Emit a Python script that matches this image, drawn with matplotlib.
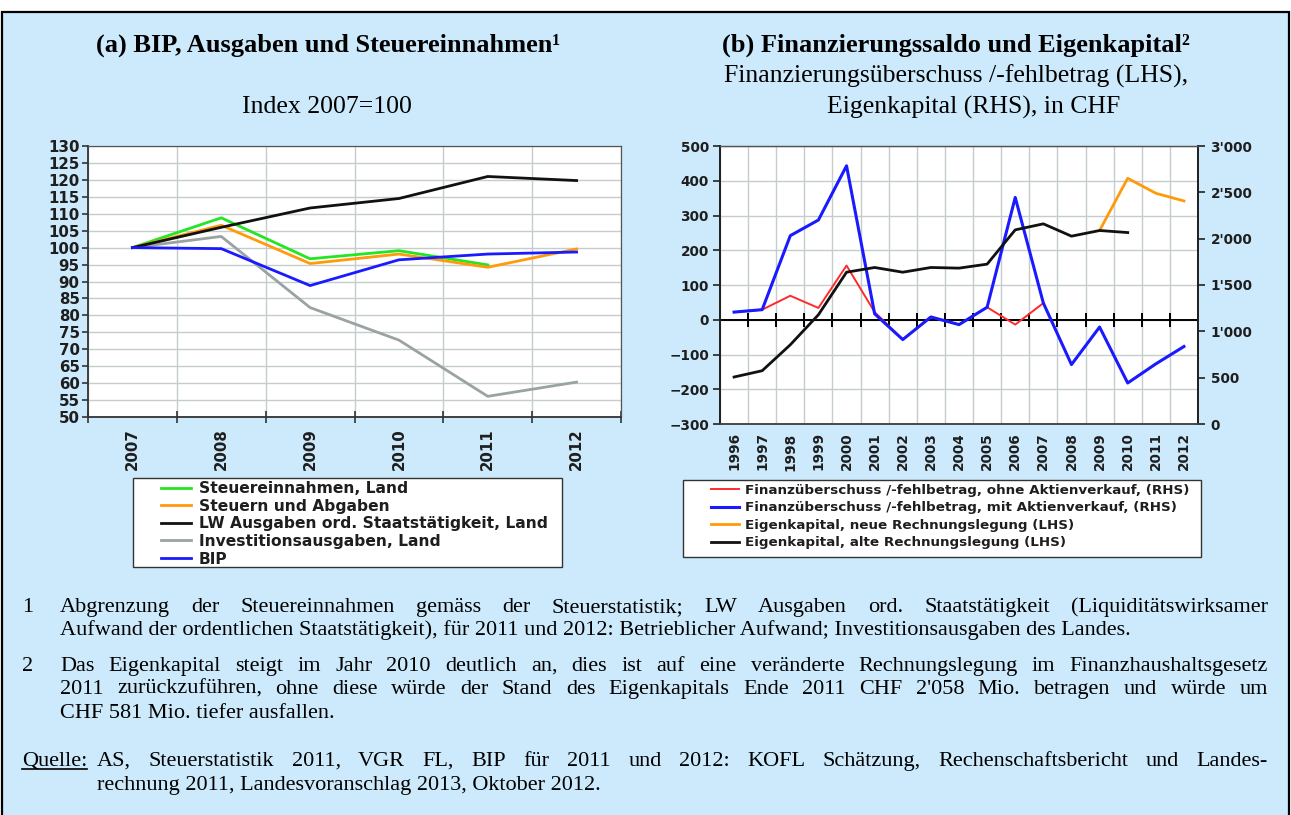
import numpy as np
import matplotlib
matplotlib.use('Agg')
import matplotlib.pyplot as plt
from matplotlib.lines import Line2D
from matplotlib.patches import Rectangle
from matplotlib.ticker import FuncFormatter

# ---------------- data ----------------
years_a = ['2007', '2008', '2009', '2010', '2011', '2012']
steuereinnahmen_land = [100, 108.8, 96.7, 99.1, 94.9, np.nan]
steuern_abgaben = [100, 106.6, 95.3, 98.1, 94.2, 99.6]
lw_ausgaben = [100, 106.0, 111.7, 114.5, 121.0, 119.8]
investitionsausgaben = [100, 103.3, 82.3, 72.7, 56.1, 60.3]
bip = [100, 99.7, 88.8, 96.4, 98.1, 98.7]

years_b = [str(y) for y in range(1996, 2013)]
fin_ohne = [22, 29, 69, 34, 156, 22, -57, 8, -14, 36, -14, 48,
            np.nan, np.nan, np.nan, np.nan, np.nan]
fin_mit = [22, 29, 242, 287, 443, 17, -57, 8, -14, 36, 352, 48,
           -129, -21, -182, -127, -77]
eigen_neu = [np.nan] * 13 + [2088, 2652, 2490, 2407]
eigen_alt = [507, 575, 855, 1179, 1638, 1689, 1638, 1689, 1682, 1725,
             2095, 2160, 2027, 2088, 2066, np.nan, np.nan]

labels_a = ['Steuereinnahmen, Land', 'Steuern und Abgaben',
            'LW Ausgaben ord. Staatstätigkeit, Land',
            'Investitionsausgaben, Land', 'BIP']
labels_b = ['Finanzüberschuss /-fehlbetrag, ohne Aktienverkauf, (RHS)',
            'Finanzüberschuss /-fehlbetrag, mit Aktienverkauf, (RHS)',
            'Eigenkapital, neue Rechnungslegung (LHS)',
            'Eigenkapital, alte Rechnungslegung (LHS)']

# ---------------- style ----------------
W, H = 1291, 815
BG = '#cdeafc'
GRID = '#c4cccc'
TXT = '#1e1e1e'
C_GREEN = '#22e622'
C_ORANGE = '#ff9a0a'
C_BLACK = '#111111'
C_GREY = '#9aa3a3'
C_BLUE = '#1a1aff'
C_RED = '#ff2a2a'
SERIF = 'Liberation Serif'
SANS = 'DejaVu Sans'


def fx(x):
    return x / W


def fy(y):
    return 1 - y / H


fig = plt.figure(figsize=(W / 100, H / 100), dpi=100)
fig.patch.set_facecolor('white')
fig.patches.append(Rectangle((fx(2), -0.02), fx(1289) - fx(2), fy(12) + 0.02,
                             transform=fig.transFigure, facecolor=BG,
                             edgecolor='black', linewidth=1.6, zorder=-10))

# ---------------- titles ----------------
fig.text(fx(328), fy(45), '(a) BIP, Ausgaben und Steuereinnahmen¹', ha='center', va='center',
         fontfamily=SERIF, fontweight='bold', fontsize=19, color='black')
fig.text(fx(327), fy(107), 'Index 2007=100', ha='center', va='center',
         fontfamily=SERIF, fontsize=18.5, color='black')
fig.text(fx(956), fy(45), '(b) Finanzierungssaldo und Eigenkapital²', ha='center', va='center',
         fontfamily=SERIF, fontweight='bold', fontsize=19, color='black')
fig.text(fx(956), fy(76), 'Finanzierungsüberschuss /-fehlbetrag (LHS),', ha='center', va='center',
         fontfamily=SERIF, fontsize=18.5, color='black')
fig.text(fx(974), fy(107), 'Eigenkapital (RHS), in CHF', ha='center', va='center',
         fontfamily=SERIF, fontsize=18.5, color='black')

# ---------------- chart (a) ----------------
ax1 = fig.add_axes([fx(88), fy(417), (621 - 88) / W, (417 - 146) / H])
ax1.set_facecolor('white')
xa = np.arange(len(years_a))
l_grey, = ax1.plot(xa, investitionsausgaben, color=C_GREY, lw=2.0, zorder=3)
l_green, = ax1.plot(xa, steuereinnahmen_land, color=C_GREEN, lw=2.0, zorder=3)
l_orange, = ax1.plot(xa, steuern_abgaben, color=C_ORANGE, lw=2.0, zorder=3)
l_black, = ax1.plot(xa, lw_ausgaben, color=C_BLACK, lw=2.0, zorder=3)
l_blue, = ax1.plot(xa, bip, color=C_BLUE, lw=2.0, zorder=4)
ax1.set_xlim(-0.5, len(years_a) - 0.5)
ax1.set_ylim(50, 130)
ax1.set_yticks(np.arange(50, 131, 5))
ax1.set_xticks(xa)
ax1.set_xticklabels(years_a, rotation=90)
ax1.set_xticks(np.arange(-0.5, len(years_a), 1), minor=True)
ax1.grid(which='minor', axis='x', color=GRID, lw=1.0)
ax1.grid(which='major', axis='y', color=GRID, lw=1.0)
ax1.set_axisbelow(True)
ax1.tick_params(axis='x', which='major', length=0, pad=8, labelsize=10.8, labelcolor=TXT)
ax1.tick_params(axis='x', which='minor', length=8, direction='inout', width=1.2, color='#333333')
ax1.tick_params(axis='y', length=4, width=1.2, color='#333333', pad=2, labelsize=10.8, labelcolor=TXT)
for lab in ax1.get_xticklabels() + ax1.get_yticklabels():
    lab.set_fontweight('bold')
    lab.set_fontfamily(SANS)
for s in ['left', 'bottom']:
    ax1.spines[s].set_color('#333333')
    ax1.spines[s].set_linewidth(1.3)
for s in ['top', 'right']:
    ax1.spines[s].set_color('#555555')
    ax1.spines[s].set_linewidth(0.9)

# legend (a)
fig.patches.append(Rectangle((fx(133), fy(567)), fx(562) - fx(133), fy(478) - fy(567),
                             transform=fig.transFigure, facecolor='white',
                             edgecolor='#333333', linewidth=1.0, zorder=1))
leg1 = fig.legend([l_green, l_orange, l_black, l_grey, l_blue], labels_a,
                  loc='upper left', bbox_to_anchor=(fx(161), fy(481)),
                  bbox_transform=fig.transFigure, frameon=False,
                  borderpad=0, borderaxespad=0, handlelength=1.9,
                  handletextpad=0.55, labelspacing=0.17,
                  prop={'family': SANS, 'weight': 'bold', 'size': 11.2})
leg1.set_zorder(2)
for t in leg1.get_texts():
    t.set_color(TXT)

# ---------------- chart (b) ----------------
ax2 = fig.add_axes([fx(720), fy(424), (1198 - 720) / W, (424 - 146) / H])
ax2.set_facecolor('white')
xb = np.arange(len(years_b))
ax2.set_xlim(-0.5, len(years_b) - 0.5)
ax2.set_ylim(-300, 500)
ax2.set_yticks(np.arange(-300, 501, 100))
ax2.set_xticks(xb)
ax2.set_xticklabels(years_b, rotation=90)
bounds = np.arange(-0.5, len(years_b), 1)
ax2.set_xticks(bounds, minor=True)
ax2.grid(which='minor', axis='x', color=GRID, lw=1.0)
ax2.grid(which='major', axis='y', color=GRID, lw=1.0)
ax2.set_axisbelow(True)
ax2.axhline(0, color='black', lw=1.4, zorder=2)
ax2.plot(bounds[1:-1], np.zeros(len(bounds) - 2), ls='none', marker='|',
         markersize=10, markeredgewidth=1.4, color='black', zorder=2)
l_red, = ax2.plot(xb, fin_ohne, color=C_RED, lw=1.4, zorder=3)
l_blue2, = ax2.plot(xb, fin_mit, color=C_BLUE, lw=2.2, zorder=4)
ax2.tick_params(axis='x', which='both', length=0, pad=6, labelsize=9.8, labelcolor=TXT)
ax2.tick_params(axis='y', length=5, width=1.2, color='#222222', pad=3, labelsize=9.8, labelcolor=TXT)
for lab in ax2.get_xticklabels() + ax2.get_yticklabels():
    lab.set_fontweight('bold')
    lab.set_fontfamily(SANS)

ax2r = ax2.twinx()
ax2r.set_ylim(0, 3000)
ax2r.set_yticks(np.arange(0, 3001, 500))
ax2r.yaxis.set_major_formatter(FuncFormatter(lambda v, p: f"{int(v):,}".replace(',', "'")))
l_orange2, = ax2r.plot(xb, eigen_neu, color=C_ORANGE, lw=2.0, zorder=3)
l_black2, = ax2r.plot(xb, eigen_alt, color=C_BLACK, lw=2.0, zorder=3)
ax2r.tick_params(axis='y', length=5, width=1.2, color='#222222', pad=4, labelsize=9.8, labelcolor=TXT)
for lab in ax2r.get_yticklabels():
    lab.set_fontweight('bold')
    lab.set_fontfamily(SANS)
for a in (ax2, ax2r):
    a.spines['left'].set_color('#222222')
    a.spines['left'].set_linewidth(1.3)
    a.spines['right'].set_color('#222222')
    a.spines['right'].set_linewidth(1.3)
    a.spines['top'].set_color('#555555')
    a.spines['top'].set_linewidth(0.9)
    a.spines['bottom'].set_color('#444444')
    a.spines['bottom'].set_linewidth(1.1)

# legend (b)
fig.patches.append(Rectangle((fx(683), fy(557)), fx(1201) - fx(683), fy(480) - fy(557),
                             transform=fig.transFigure, facecolor='white',
                             edgecolor='#333333', linewidth=1.0, zorder=1))
leg2 = fig.legend([l_red, l_blue2, l_orange2, l_black2], labels_b,
                  loc='upper left', bbox_to_anchor=(fx(711), fy(484)),
                  bbox_transform=fig.transFigure, frameon=False,
                  borderpad=0, borderaxespad=0, handlelength=2.1,
                  handletextpad=0.4, labelspacing=0.33,
                  prop={'family': SANS, 'weight': 'bold', 'size': 9.7})
leg2.set_zorder(2)
for t in leg2.get_texts():
    t.set_color(TXT)

# ---------------- footnotes ----------------
FS = 16
BASE = 6  # baseline offset below the visual line centre (px)
renderer = fig.canvas.get_renderer()
kw = dict(ha='left', va='baseline', fontfamily=SERIF, fontsize=FS, color='black')


def justify(line, x0, x1, y):
    words = line.split()
    texts, widths = [], []
    for w in words:
        t = fig.text(0, 0, w, **kw)
        widths.append(t.get_window_extent(renderer=renderer).width)
        texts.append(t)
    gap = ((x1 - x0) - sum(widths)) / max(len(words) - 1, 1)
    x = x0
    for t, wd in zip(texts, widths):
        t.set_position((fx(x), fy(y + BASE)))
        x += wd + gap


def plain(x, y, s):
    return fig.text(fx(x), fy(y + BASE), s, **kw)


XL, XR = 60, 1268
plain(22, 606, '1')
justify('Abgrenzung der Steuereinnahmen gemäss der Steuerstatistik; LW Ausgaben ord. '
        'Staatstätigkeit (Liquiditätswirksamer', XL, XR, 606)
plain(XL, 629, 'Aufwand der ordentlichen Staatstätigkeit), für 2011 und 2012: '
      'Betrieblicher Aufwand; Investitionsausgaben des Landes.')
plain(22, 665, '2')
justify('Das Eigenkapital steigt im Jahr 2010 deutlich an, dies ist auf eine veränderte '
        'Rechnungslegung im Finanzhaushaltsgesetz', XL, XR, 665)
justify("2011 zurückzuführen, ohne diese würde der Stand des Eigenkapitals Ende 2011 CHF "
        "2'058 Mio. betragen und würde um", XL, XR, 688)
plain(XL, 712, 'CHF 581 Mio. tiefer ausfallen.')

q = plain(22, 760, 'Quelle:')
uy = fy(760 + BASE + 3)
qb = q.get_window_extent(renderer=renderer)
fig.lines.append(Line2D([fx(qb.x0), fx(qb.x1)], [uy, uy],
                        transform=fig.transFigure, color='black', lw=1.2))
justify('AS, Steuerstatistik 2011, VGR FL, BIP für 2011 und 2012: KOFL Schätzung, '
        'Rechenschaftsbericht und Landes-', 97, XR, 760)
plain(97, 784, 'rechnung 2011, Landesvoranschlag 2013, Oktober 2012.')

fig.savefig('out.png', dpi=100, facecolor='white')
